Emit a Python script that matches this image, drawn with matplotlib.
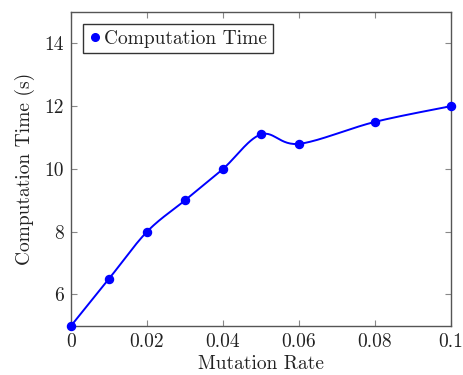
import numpy as np
import matplotlib
matplotlib.use("Agg")
import matplotlib.pyplot as plt
from matplotlib.lines import Line2D

mutation_rate = [0, 0.01, 0.02, 0.03, 0.04, 0.05, 0.06, 0.08, 0.1]
computation_time = [5, 6.5, 8, 9, 10, 11.1, 10.8, 11.5, 12]
x_ticks = [0, 0.02, 0.04, 0.06, 0.08, 0.1]
x_tick_labels = ["0", "0.02", "0.04", "0.06", "0.08", "0.1"]
y_ticks = [6, 8, 10, 12, 14]

plt.rcParams["font.family"] = "serif"
plt.rcParams["font.serif"] = ["cmr10", "DejaVu Serif"]
plt.rcParams["mathtext.fontset"] = "cm"
plt.rcParams["axes.unicode_minus"] = False
plt.rcParams["text.color"] = "#222222"
plt.rcParams["axes.labelcolor"] = "#222222"


# smooth curve like pgfplots "smooth" (Catmull-Rom through the points)
def catmull_rom(xs, ys, n=30):
    p = np.column_stack([xs, ys]).astype(float)
    p = np.vstack([p[0], p, p[-1]])
    out = []
    for i in range(1, len(p) - 2):
        p0, p1, p2, p3 = p[i - 1], p[i], p[i + 1], p[i + 2]
        t = np.linspace(0, 1, n)[:, None]
        seg = 0.5 * ((2 * p1) + (-p0 + p2) * t + (2 * p0 - 5 * p1 + 4 * p2 - p3) * t ** 2
                     + (-p0 + 3 * p1 - 3 * p2 + p3) * t ** 3)
        out.append(seg)
    out = np.vstack(out)
    return out[:, 0], out[:, 1]


fig = plt.figure(figsize=(4.64, 3.75), dpi=100)
ax = fig.add_axes([0.153, 0.131, 0.819, 0.837])

sx, sy = catmull_rom(mutation_rate, computation_time)
ax.plot(sx, sy, color="#0000ff", lw=1.4, zorder=3, clip_on=False)
ax.plot(mutation_rate, computation_time, "o", color="#0000ff", ms=5.8, zorder=4, clip_on=False)

ax.set_xlim(0, 0.1)
ax.set_ylim(5, 15)
ax.set_xticks(x_ticks)
ax.set_xticklabels(x_tick_labels)
ax.set_yticks(y_ticks)
ax.tick_params(direction="in", top=True, right=True, length=4, color="#888888",
               labelsize=14, labelcolor="#222222", pad=5)
for s in ax.spines.values():
    s.set_color("#555555")
    s.set_linewidth(1.0)

ax.set_xlabel("Mutation Rate", fontsize=14, labelpad=3)
ax.set_ylabel("Computation Time (s)", fontsize=14, labelpad=7)

handle = Line2D([], [], marker="o", color="#0000ff", ls="none", ms=5.5)
leg = ax.legend([handle], ["Computation Time"], loc="upper left", fontsize=14,
                fancybox=False, framealpha=1, edgecolor="#333333",
                handletextpad=0.1, handlelength=0.7, borderpad=0.3,
                borderaxespad=0.6)
leg.get_frame().set_linewidth(1.0)

fig.savefig("out.png", dpi=100)
